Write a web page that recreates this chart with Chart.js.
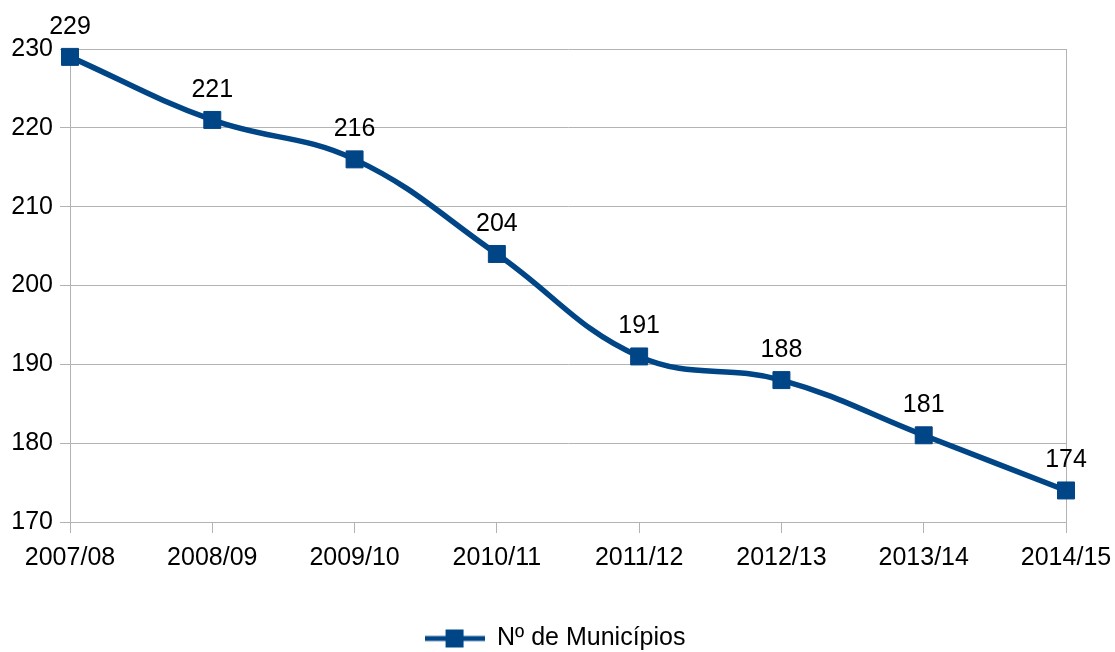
<!DOCTYPE html>
<html>
<head>
<meta charset="utf-8">
<script src="https://cdn.jsdelivr.net/npm/chart.js@4.4.1/dist/chart.umd.min.js"></script>
<style>
html,body{margin:0;padding:0;background:#fff;}
#wrap{width:1115px;height:652px;position:relative;}
</style>
</head>
<body>
<div id="wrap"><canvas id="c" width="1115" height="652"></canvas></div>
<script>
const categories = ["2007/08","2008/09","2009/10","2010/11","2011/12","2012/13","2013/14","2014/15"];
const municipios = [229,221,216,204,191,188,181,174];
const seriesName = "Nº de Municípios";
const yMin = 170, yMax = 230, yStep = 10;

const BLUE = '#004586';
const GRID = '#b3b3b3';
const FONT = 'Liberation Sans, Arial, sans-serif';
const FS = 25;

// legend symbol: line with square marker
const sym = document.createElement('canvas');
sym.width = 60; sym.height = 20;
(function(){
  const g = sym.getContext('2d');
  g.strokeStyle = BLUE; g.lineWidth = 5;
  g.beginPath(); g.moveTo(0,10); g.lineTo(60,10); g.stroke();
  g.fillStyle = BLUE; g.fillRect(21,1,18,18);
})();

const labelPlugin = {
  id:'valueLabels',
  afterDatasetsDraw(chart){
    const ctx = chart.ctx;
    const meta = chart.getDatasetMeta(0);
    ctx.save();
    ctx.font = FS + 'px ' + FONT;
    ctx.fillStyle = '#000';
    ctx.textAlign = 'center';
    ctx.textBaseline = 'alphabetic';
    meta.data.forEach((pt,i)=>{
      ctx.fillText(String(chart.data.datasets[0].data[i]), pt.x, pt.y - 23);
    });
    ctx.restore();
  }
};

const legendFit = {
  id:'legendFit',
  beforeLayout(chart){
    const lg = chart.legend;
    if (lg && !lg._patched){
      const f = lg.fit;
      lg.fit = function(){ f.call(this); this.height = 28; };
      lg._patched = true;
    }
  },
  afterLayout(chart){
    const lg = chart.legend;
    if (lg){ lg.left += 22; lg.right += 22; }
  }
};

new Chart(document.getElementById('c'), {
  type:'line',
  data:{
    labels: categories,
    datasets:[{
      label: seriesName,
      data: municipios,
      borderColor: BLUE,
      backgroundColor: BLUE,
      borderWidth: 5.5,
      tension: 0.4,
      pointStyle: 'rect',
      pointRadius: 12,
      pointHoverRadius: 12,
      pointBorderWidth: 1,
      pointBackgroundColor: BLUE,
      pointBorderColor: BLUE,
      clip: false
    }]
  },
  options:{
    responsive:false,
    animation:false,
    layout:{padding:{left:0,right:49,top:49,bottom:0}},
    plugins:{
      tooltip:{enabled:false},
      legend:{
        position:'bottom',
        labels:{
          usePointStyle:true,
          pointStyle: sym,
          pointStyleWidth: 60,
          boxHeight: 20,
          font:{family:FONT,size:FS},
          color:'#000',
          padding:2
        }
      }
    },
    scales:{
      x:{
        offset:false,
        grid:{
          color:(c)=> (c.index===0 || c.index===categories.length-1) ? GRID : 'rgba(0,0,0,0)',
          tickColor: GRID,
          tickLength: 11,
          lineWidth:1
        },
        border:{color:GRID},
        ticks:{font:{family:FONT,size:FS},color:'#000',padding:10,maxRotation:0,autoSkip:false},
        afterFit(s){ s.height = 102; s.paddingRight = 0; s.paddingLeft = 0; }
      },
      y:{
        min:yMin, max:yMax,
        grid:{color:GRID, tickColor:GRID, tickLength:10, lineWidth:1},
        border:{color:GRID},
        ticks:{stepSize:yStep,font:{family:FONT,size:FS},color:'#000',padding:7},
        afterFit(s){ s.width = 70; }
      }
    }
  },
  plugins:[labelPlugin, legendFit]
});
</script>
</body>
</html>
